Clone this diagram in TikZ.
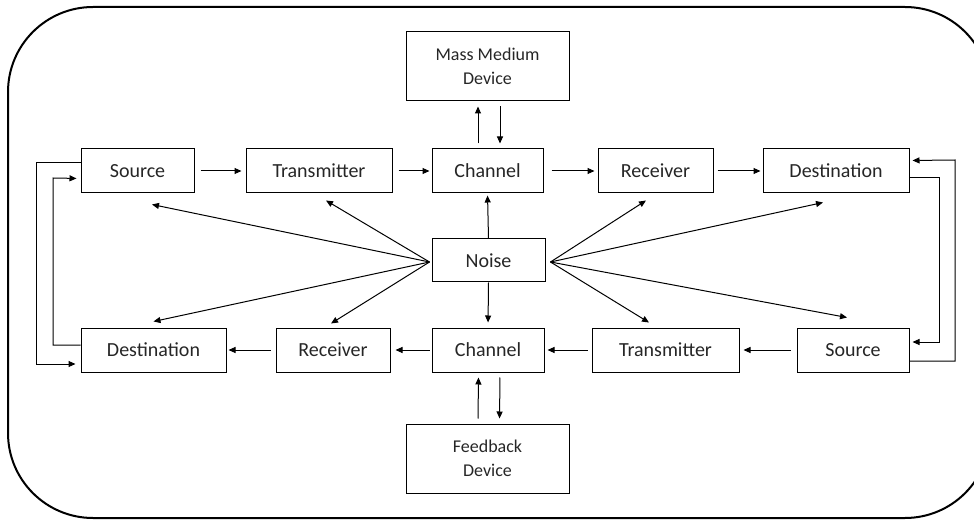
\documentclass[tikz,border=0pt]{standalone}
\usepackage{fontspec}
\setmainfont{Carlito}
\usetikzlibrary{arrows.meta}
\begin{document}
\begin{tikzpicture}[x=1pt,y=-1pt,
  box/.style={draw=black, line width=1pt, rectangle, inner sep=0pt,
    font=\fontsize{20}{24}\selectfont, text=black!85},
  bigbox/.style={box, font=\fontsize{18}{24}\selectfont, align=center},
  arr/.style={line width=1pt, -{Triangle[length=7pt,width=6pt]}},
  ln/.style={line width=1pt}]
\useasboundingbox (0,0) rectangle (974,521);
\draw[line width=2pt, rounded corners=85pt] (8,7) rectangle (990,518);
% top row
\node[box, minimum width=113pt, minimum height=44pt] (src1) at (137.5,171) {Source};
\node[box, minimum width=146pt, minimum height=44pt] (tx1) at (319,171) {Transmitter};
\node[box, minimum width=111pt, minimum height=44pt] (ch1) at (487.5,171) {Channel};
\node[box, minimum width=115pt, minimum height=44pt] (rx1) at (655.5,171) {Receiver};
\node[box, minimum width=146pt, minimum height=44pt] (dst1) at (836,171) {Destination};
% bottom row
\node[box, minimum width=145pt, minimum height=44pt] (dst2) at (153.5,350) {Destination};
\node[box, minimum width=114pt, minimum height=44pt] (rx2) at (333,350) {Receiver};
\node[box, minimum width=112pt, minimum height=44pt] (ch2) at (488,350) {Channel};
\node[box, minimum width=147pt, minimum height=44pt] (tx2) at (665.5,350) {Transmitter};
\node[box, minimum width=112pt, minimum height=44pt] (src2) at (853,350) {Source};
% others
\node[bigbox, minimum width=163pt, minimum height=69pt] (mass) at (487.5,66.5) {Mass Medium\\Device};
\node[bigbox, minimum width=163pt, minimum height=69pt] (fb) at (487.5,458.5) {Feedback\\Device};
\node[box, minimum width=113pt, minimum height=43pt] (noise) at (488.5,260.5) {Noise};
% top row arrows
\draw[arr, shorten <=6pt, shorten >=4pt] (src1.east) -- (tx1.west);
\draw[arr, shorten <=6pt, shorten >=2pt] (tx1.east) -- (ch1.west);
\draw[arr, shorten <=8pt, shorten >=3pt] (ch1.east) -- (rx1.west);
\draw[arr, shorten <=4pt, shorten >=2pt] (rx1.east) -- (dst1.west);
% bottom row arrows
\draw[arr, shorten <=6pt, shorten >=4pt] (src2.west) -- (tx2.east);
\draw[arr, shorten <=4pt, shorten >=3pt] (tx2.west) -- (ch2.east);
\draw[arr, shorten <=2pt, shorten >=5pt] (ch2.west) -- (rx2.east);
\draw[arr, shorten <=5pt, shorten >=2pt] (rx2.west) -- (dst2.east);
% mass medium
\draw[arr, shorten <=5pt, shorten >=5pt] ([xshift=-9.5pt]ch1.north) -- ([xshift=-9.5pt]mass.south);
\draw[arr, shorten <=5pt, shorten >=5pt] ([xshift=12.5pt]mass.south) -- ([xshift=12.5pt]ch1.north);
% feedback
\draw[arr, shorten <=5pt, shorten >=5pt] ([xshift=-9.5pt]fb.north) -- ([xshift=-9.5pt]ch2.south);
\draw[arr, shorten <=5pt, shorten >=5pt] ([xshift=12pt]ch2.south) -- ([xshift=12pt]fb.north);
% noise arrows
\coordinate (nl) at ([xshift=-2pt,yshift=-1.5pt]noise.west);
\coordinate (nr) at ([xshift=5pt,yshift=-1.5pt]noise.east);
\draw[arr] (nl) -- ([xshift=14.5pt,yshift=-11pt]src1.south);
\draw[arr] (nl) -- ([xshift=7pt,yshift=-7pt]tx1.south);
\draw[arr] (nl) -- ([xshift=0pt,yshift=6pt]dst2.north);
\draw[arr] (nl) -- ([xshift=-2pt,yshift=4pt]rx2.north);
\draw[arr] (nr) -- ([xshift=-9.5pt,yshift=-7pt]rx1.south);
\draw[arr] (nr) -- ([xshift=-13pt,yshift=-9pt]dst1.south);
\draw[arr] (nr) -- ([xshift=-16.5pt,yshift=5pt]tx2.north);
\draw[arr] (nr) -- ([xshift=-6pt,yshift=10pt]src2.north);
\draw[arr, shorten >=2pt] (noise.north) -- (ch1.south);
\draw[arr, shorten >=5pt] (noise.south) -- (ch2.north);
% left feedback loops
\draw[arr, shorten >=5pt] ([yshift=8.5pt]src1.west) -| (36,364) -- ([yshift=-14pt]dst2.west);
\draw[arr, shorten >=4pt] ([yshift=5pt]dst2.west) -| (53,178) -- ([yshift=-7.5pt]src1.west);
% right feedback loops
\draw[arr, shorten >=3pt] ([yshift=-11pt]src2.east) -| (955,160) -- ([yshift=10.5pt]dst1.east);
\draw[arr, shorten >=3pt] ([yshift=-6.5pt]dst1.east) -| (939,342) -- ([yshift=8pt]src2.east);
\end{tikzpicture}
\end{document}
